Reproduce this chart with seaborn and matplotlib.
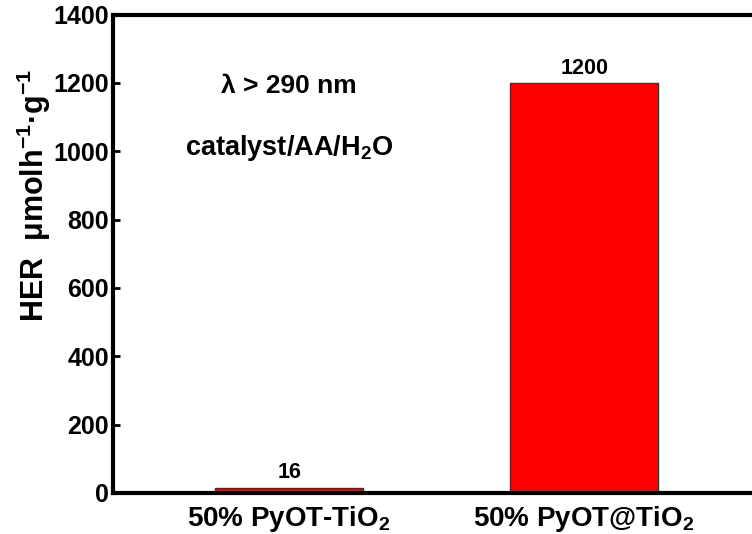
import matplotlib
matplotlib.use("Agg")
import matplotlib.pyplot as plt
import seaborn as sns
import pandas as pd

catalysts = ["50% PyOT-TiO$_2$", "50% PyOT@TiO$_2$"]
her_rates = [16, 1200]
bar_labels = ["16", "1200"]
y_ticks = [0, 200, 400, 600, 800, 1000, 1200, 1400]

sns.set_style("white")
plt.rcParams["font.family"] = ["Liberation Sans", "DejaVu Sans"]
plt.rcParams["font.weight"] = "bold"
plt.rcParams["mathtext.default"] = "regular"
plt.rcParams["text.color"] = "black"
plt.rcParams["xtick.color"] = "black"
plt.rcParams["ytick.color"] = "black"

df = pd.DataFrame({"catalyst": catalysts, "rate": her_rates})

fig = plt.figure(figsize=(7.52, 5.34), dpi=100)
ax = fig.add_axes([113 / 752, 41 / 534, (770 - 113) / 752, (493 - 14.5) / 534])

sns.barplot(data=df, x="catalyst", y="rate", hue="catalyst",
            palette=["#ff0000", "#ff0000"], width=0.5, legend=False,
            edgecolor="#333333", linewidth=1.0, ax=ax, saturation=1)

for cont, lab in zip(ax.containers, bar_labels):
    ax.bar_label(cont, labels=[lab], padding=3, fontsize=15.5,
                 fontweight="bold", color="black")

ax.set_xlim(-0.597, 1.63)
ax.set_ylim(0, 1400)
ax.set_yticks(y_ticks)
ax.set_yticklabels([str(t) for t in y_ticks], fontsize=18, fontweight="bold")
ax.tick_params(axis="y", direction="in", length=5, width=2, pad=3, left=True,
               labelcolor="black")
ax.tick_params(axis="x", length=0, pad=8, labelsize=20, labelcolor="black")
for lbl in ax.get_xticklabels():
    lbl.set_fontweight("bold")
ax.set_xlabel("")
ax.set_ylabel("")

for side in ["left", "top", "bottom"]:
    ax.spines[side].set_visible(True)
    ax.spines[side].set_linewidth(3)
    ax.spines[side].set_color("black")
ax.spines["right"].set_visible(False)

fig.text(34 / 752, 1 - 195 / 534, "HER  μmolh$^{-1}$·g$^{-1}$", rotation=90,
         ha="center", va="center", fontsize=22, fontweight="bold", color="black")

ax.text(0.0, 1190, "λ > 290 nm", ha="center", va="center",
        fontsize=19, fontweight="bold", color="black")
ax.text(0.0, 1010, "catalyst/AA/H$_2$O", ha="center", va="center",
        fontsize=19.5, fontweight="bold", color="black")

fig.savefig("out.png", dpi=100)
